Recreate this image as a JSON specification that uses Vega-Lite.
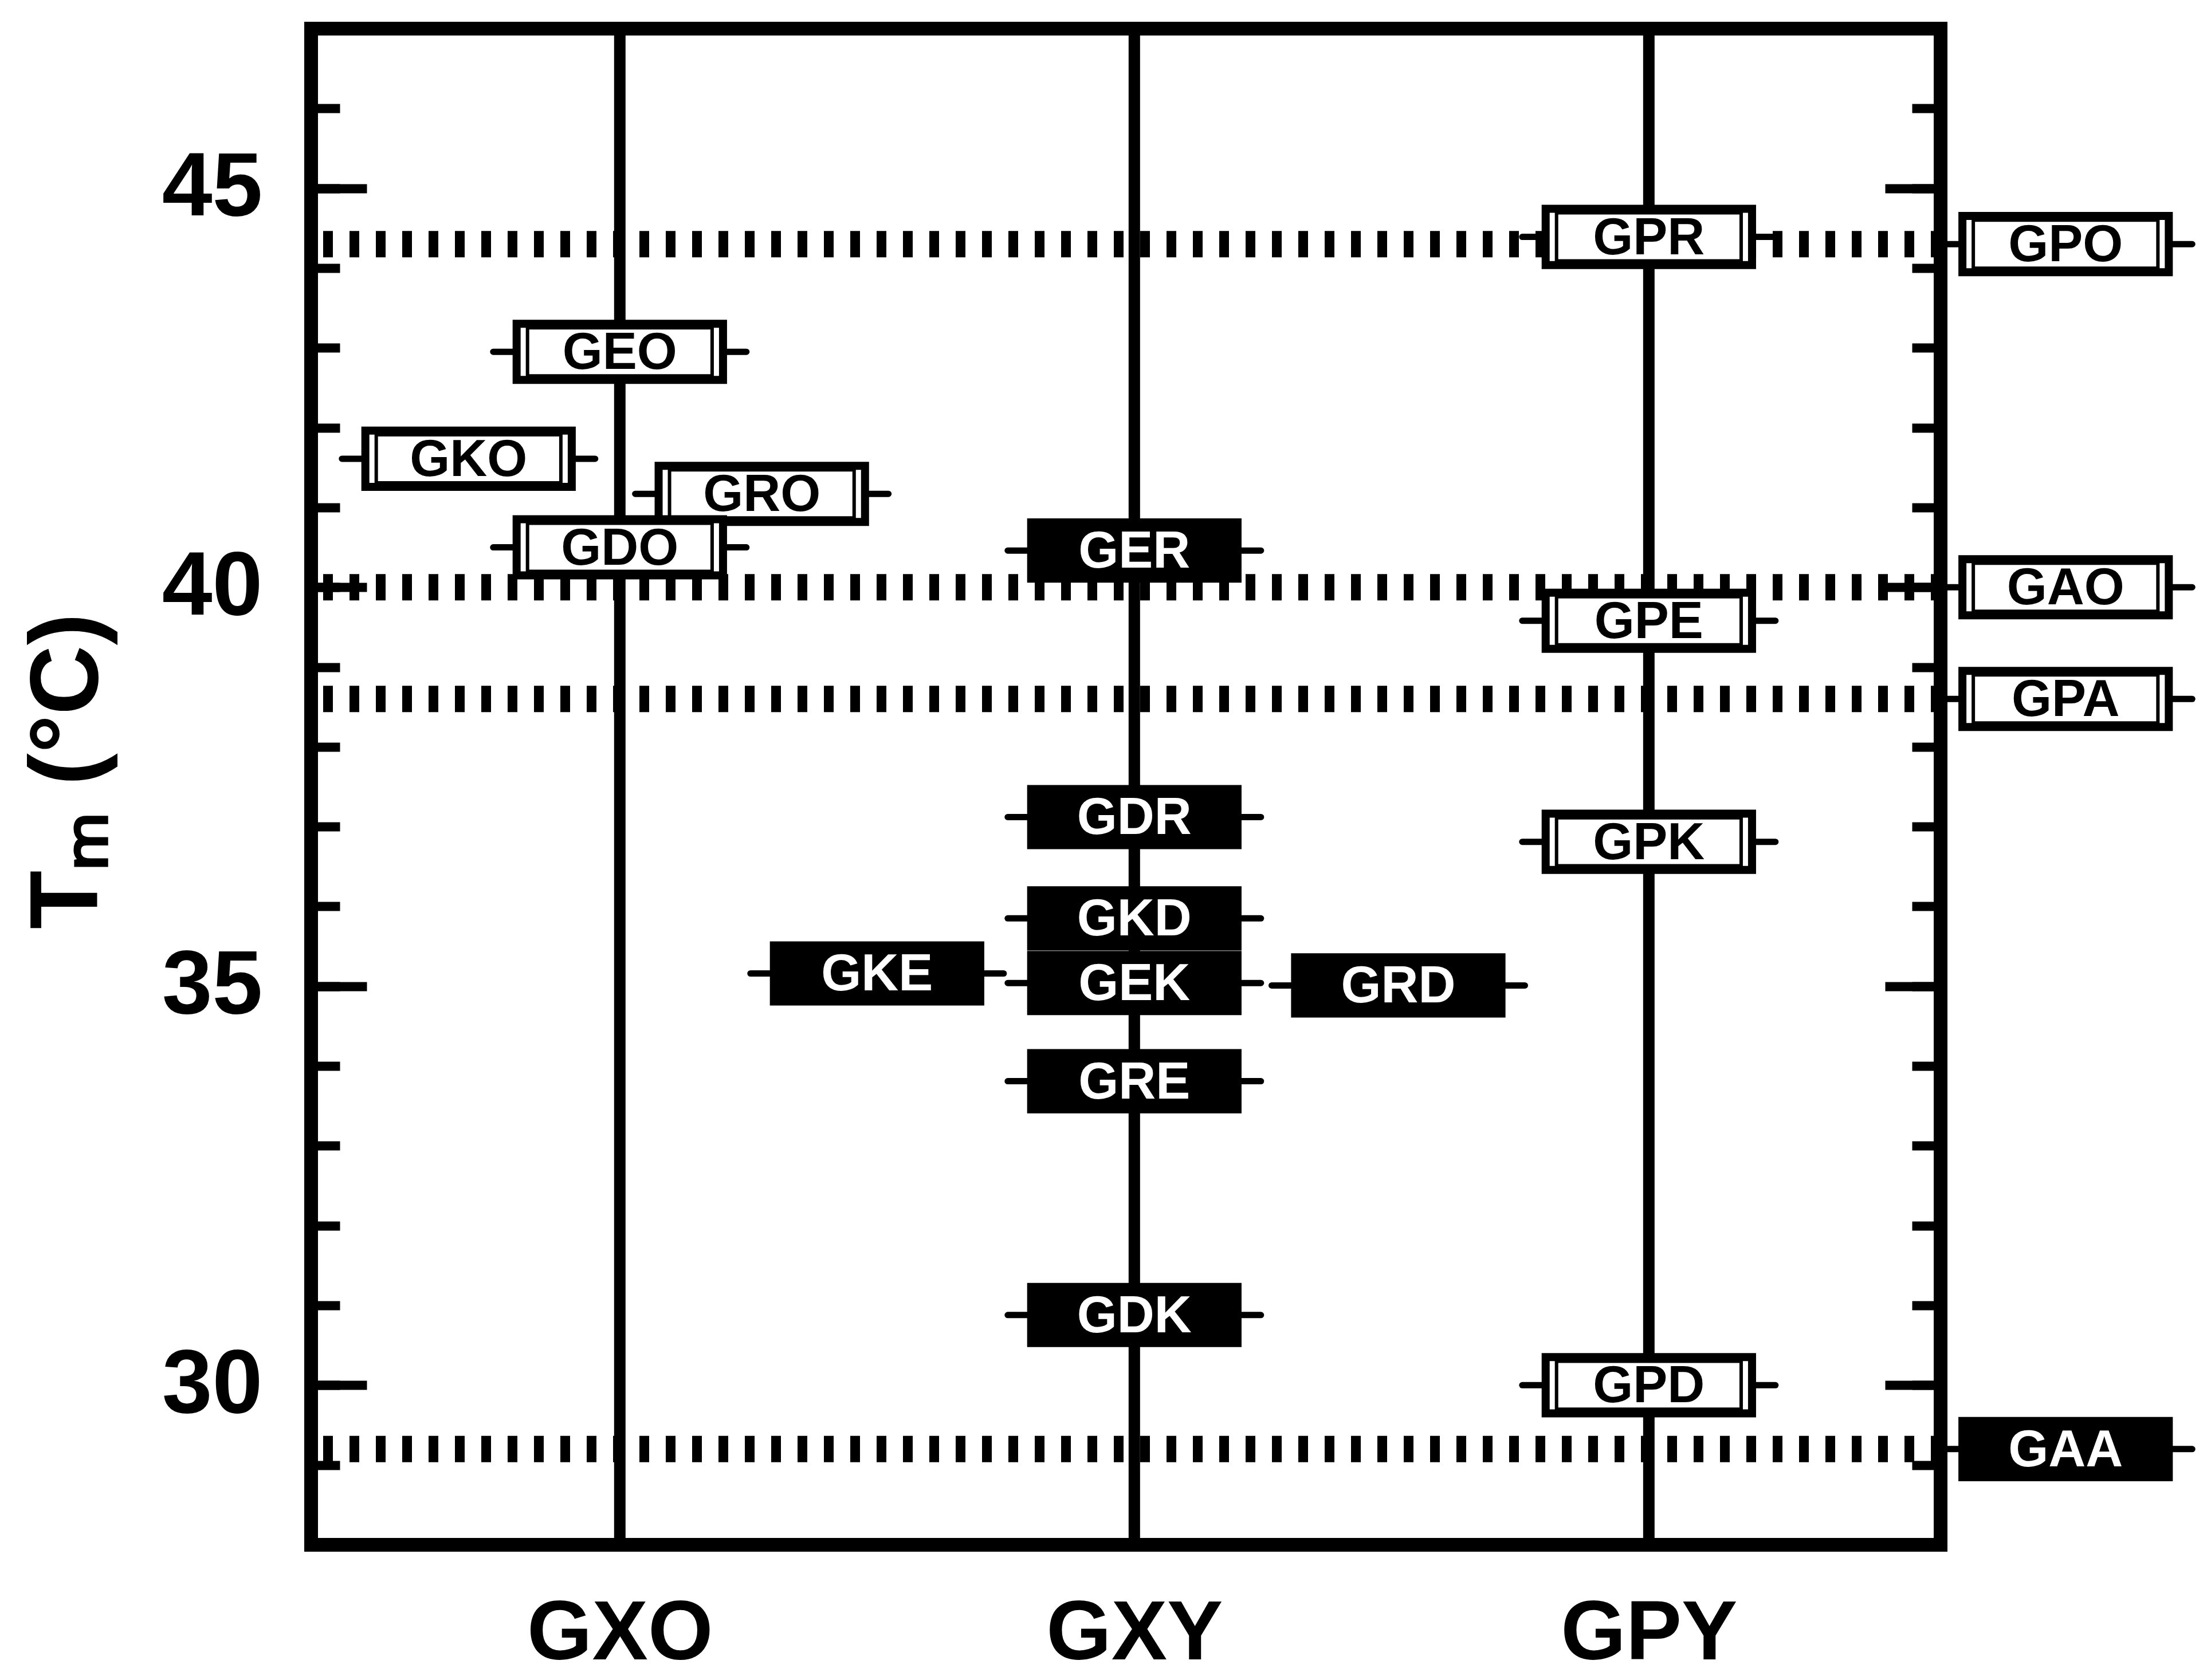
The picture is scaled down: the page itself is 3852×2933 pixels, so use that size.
{
  "$schema": "https://vega.github.io/schema/vega-lite/v6.json",
  "width": 2844,
  "height": 2647,
  "autosize": {"type": "none"},
  "padding": {"left": 543, "top": 50, "right": 465, "bottom": 236},
  "background": "white",
  "config": {
    "view": {"stroke": "black", "strokeWidth": 24},
    "axis": {"grid": false, "domain": false, "tickColor": "black", "labelColor": "black", "titleColor": "black", "labelLimit": 0}
  },
  "datasets": {
    "dimers": [
      {"name": "GEO", "Tm": 42.95, "x": 1.0, "kind": "open"},
      {"name": "GKO", "Tm": 41.61, "x": 0.706, "kind": "open"},
      {"name": "GRO", "Tm": 41.17, "x": 1.276, "kind": "open"},
      {"name": "GDO", "Tm": 40.5, "x": 1.0, "kind": "open"},
      {"name": "GER", "Tm": 40.46, "x": 2.0, "kind": "filled"},
      {"name": "GDR", "Tm": 37.12, "x": 2.0, "kind": "filled"},
      {"name": "GKD", "Tm": 35.85, "x": 2.0, "kind": "filled"},
      {"name": "GKE", "Tm": 35.16, "x": 1.5, "kind": "filled"},
      {"name": "GEK", "Tm": 35.04, "x": 2.0, "kind": "filled"},
      {"name": "GRD", "Tm": 35.01, "x": 2.513, "kind": "filled"},
      {"name": "GRE", "Tm": 33.81, "x": 2.0, "kind": "filled"},
      {"name": "GDK", "Tm": 30.88, "x": 2.0, "kind": "filled"},
      {"name": "GPR", "Tm": 44.39, "x": 3.0, "kind": "open"},
      {"name": "GPE", "Tm": 39.58, "x": 3.0, "kind": "open"},
      {"name": "GPK", "Tm": 36.81, "x": 3.0, "kind": "open"},
      {"name": "GPD", "Tm": 30.0, "x": 3.0, "kind": "open"},
      {"name": "GPO", "Tm": 44.3, "x": 3.81, "kind": "open"},
      {"name": "GAO", "Tm": 40.0, "x": 3.81, "kind": "open"},
      {"name": "GPA", "Tm": 38.6, "x": 3.81, "kind": "open"},
      {"name": "GAA", "Tm": 29.2, "x": 3.81, "kind": "filled"}
    ],
    "columns": [
      {"column": "GXO", "x": 1},
      {"column": "GXY", "x": 2},
      {"column": "GPY", "x": 3}
    ]
  },
  "resolve": {"axis": {"y": "independent", "x": "independent"}},
  "layer": [
    {
      "data": {"name": "columns"},
      "mark": {"type": "rule", "stroke": "black", "strokeWidth": 20},
      "encoding": {
        "x": {
          "field": "x", "type": "quantitative",
          "scale": {"domain": [0.4, 3.567], "nice": false, "zero": false},
          "axis": {
            "orient": "bottom", "values": [1, 2, 3], "ticks": false, "domain": false,
            "labelExpr": "datum.value == 1 ? 'GXO' : (datum.value == 2 ? 'GXY' : 'GPY')",
            "labelFont": "Liberation Sans", "labelFontWeight": "bold", "labelFontSize": 146,
            "labelPadding": 84, "labelBaseline": "top", "labelFlush": false, "labelOverlap": false,
            "labelLimit": 0, "title": null
          }
        }
      }
    },
    {
      "data": {"name": "dimers"},
      "transform": [{"filter": "datum.x > 3.6"}],
      "mark": {"type": "rule", "stroke": "black", "strokeWidth": 46, "strokeDash": [17, 29]},
      "encoding": {
        "y": {
          "field": "Tm", "type": "quantitative",
          "scale": {"domain": [28, 47], "nice": false, "zero": false},
          "axis": {
            "orient": "left", "values": [30, 35, 40, 45], "tickSize": -97, "tickWidth": 16,
            "labelFont": "Liberation Sans", "labelFontWeight": "bold", "labelFontSize": 158,
            "labelPadding": 182, "labelFlush": false, "labelOverlap": false, "labelLimit": 0,
            "title": "Tₘ (°C)", "titleFont": "Liberation Sans", "titleFontWeight": "bold",
            "titleFontSize": 168, "titleAngle": -90, "titleX": -374, "titleY": 1296,
            "titleAlign": "center", "titleBaseline": "alphabetic", "titleLimit": 0
          }
        }
      }
    },
    {
      "data": {"name": "dimers"},
      "mark": {"type": "point", "shape": "M-1,0H1", "size": 195364, "filled": false, "stroke": "black", "strokeWidth": 11, "strokeCap": "round", "opacity": 1},
      "encoding": {
        "x": {"field": "x", "type": "quantitative", "scale": {"domain": [0.4, 3.567], "nice": false, "zero": false}, "axis": null},
        "y": {
          "field": "Tm", "type": "quantitative",
          "scale": {"domain": [28, 47], "nice": false, "zero": false},
          "axis": {
            "orient": "left", "values": [29, 30, 31, 32, 33, 34, 35, 36, 37, 38, 39, 40, 41, 42, 43, 44, 45, 46],
            "tickSize": -50, "tickWidth": 16, "labels": false, "title": null
          }
        }
      }
    },
    {
      "data": {"name": "dimers"},
      "mark": {"type": "point", "shape": "M-0.815,-0.222H0.815V0.222H-0.815Z", "size": 195364, "filled": true, "stroke": "black", "strokeWidth": 14, "opacity": 1},
      "encoding": {
        "x": {"field": "x", "type": "quantitative", "scale": {"domain": [0.4, 3.567], "nice": false, "zero": false}, "axis": null},
        "y": {
          "field": "Tm", "type": "quantitative",
          "scale": {"domain": [28, 47], "nice": false, "zero": false},
          "axis": {
            "orient": "right", "values": [30, 35, 40, 45], "tickSize": -97, "tickWidth": 16,
            "labels": false, "title": null
          }
        },
        "fill": {"field": "kind", "type": "nominal", "scale": {"domain": ["open", "filled"], "range": ["white", "black"]}, "legend": null}
      }
    },
    {
      "data": {"name": "dimers"},
      "transform": [{"filter": "datum.kind === 'open'"}],
      "mark": {"type": "point", "shape": "M-0.729,-0.19H0.729V0.19H-0.729Z", "size": 195364, "filled": false, "stroke": "black", "strokeWidth": 6, "opacity": 1},
      "encoding": {
        "x": {"field": "x", "type": "quantitative", "scale": {"domain": [0.4, 3.567], "nice": false, "zero": false}, "axis": null},
        "y": {
          "field": "Tm", "type": "quantitative",
          "scale": {"domain": [28, 47], "nice": false, "zero": false},
          "axis": {
            "orient": "right", "values": [29, 30, 31, 32, 33, 34, 35, 36, 37, 38, 39, 40, 41, 42, 43, 44, 45, 46],
            "tickSize": -50, "tickWidth": 16, "labels": false, "title": null
          }
        }
      }
    },
    {
      "data": {"name": "dimers"},
      "mark": {"type": "text", "font": "Liberation Sans", "fontWeight": "bold", "fontSize": 90, "align": "center", "baseline": "middle", "dy": 3},
      "encoding": {
        "x": {"field": "x", "type": "quantitative", "scale": {"domain": [0.4, 3.567], "nice": false, "zero": false}, "axis": null},
        "y": {"field": "Tm", "type": "quantitative", "scale": {"domain": [28, 47], "nice": false, "zero": false}, "axis": null},
        "text": {"field": "name", "type": "nominal"},
        "color": {"field": "kind", "type": "nominal", "scale": {"domain": ["open", "filled"], "range": ["black", "white"]}, "legend": null}
      }
    }
  ]
}
